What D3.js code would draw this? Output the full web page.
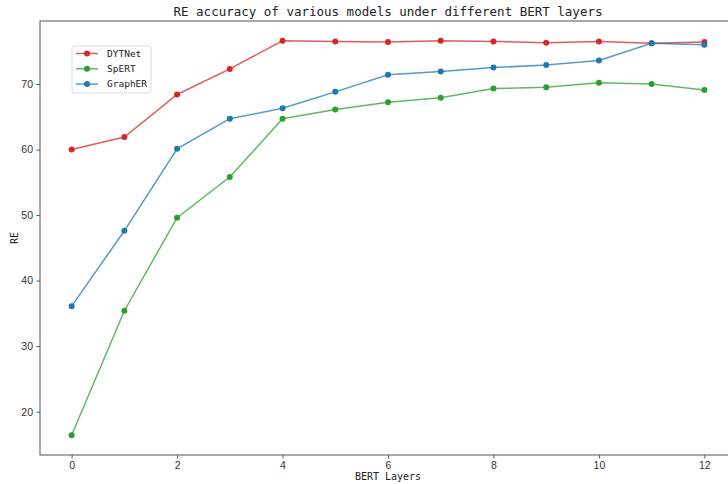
<!DOCTYPE html>
<html>
<head>
<meta charset="utf-8">
<script src="https://cdn.jsdelivr.net/npm/d3@7"></script>
<style>
  html, body { margin: 0; padding: 0; background: #fff; }
  svg { display: block; }
  .mono { font-family: "DejaVu Sans Mono", "Liberation Mono", monospace; fill: #222; }
  .tick text { font-family: "Liberation Sans", Arial, sans-serif; font-size: 10.5px; fill: #333; }
</style>
</head>
<body>
<svg id="chart"></svg>
<script>
// BERT layer counts on the x axis
const layers = [0, 1, 2, 3, 4, 5, 6, 7, 8, 9, 10, 11, 12];

// RE scores
const dytnet = [60.0, 61.9, 68.4, 72.3, 76.6, 76.5, 76.4, 76.6, 76.5, 76.3, 76.5, 76.2, 76.4];
const spert = [16.4, 35.4, 49.6, 55.8, 64.7, 66.1, 67.2, 67.9, 69.3, 69.5, 70.2, 70.0, 69.1];
const grapher = [36.1, 47.6, 60.1, 64.7, 66.3, 68.8, 71.4, 71.9, 72.5, 72.9, 73.6, 76.2, 76.0];

const xTicks = [0, 2, 4, 6, 8, 10, 12];
const yTicks = [20, 30, 40, 50, 60, 70];

const series = [
  { name: 'DYTNet', values: dytnet, color: '#d62728' },
  { name: 'SpERT', values: spert, color: '#2ca02c' },
  { name: 'GraphER', values: grapher, color: '#1f77b4' },
];

const W = 728, H = 484;
// axes box; matplotlib figure is cropped on the right
const margin = { top: 21, right: -8, bottom: 29, left: 40 };
const width = W - margin.left - margin.right;
const height = H - margin.top - margin.bottom;

const svg = d3.select('#chart').attr('width', W).attr('height', H);
const g = svg.append('g').attr('transform', `translate(${margin.left},${margin.top})`);

// 5% padding like matplotlib's default margins
const xSpan = d3.extent(layers);
const xPad = (xSpan[1] - xSpan[0]) * 0.05;
const x = d3.scaleLinear().domain([xSpan[0] - xPad, xSpan[1] + xPad]).range([0, width]);

const allVals = series.flatMap((s) => s.values);
const ySpan = d3.extent(allVals);
const yPad = (ySpan[1] - ySpan[0]) * 0.05;
const y = d3.scaleLinear().domain([ySpan[0] - yPad, ySpan[1] + yPad]).range([height, 0]);

// frame
g.append('rect')
  .attr('x', 0).attr('y', 0)
  .attr('width', width).attr('height', height)
  .attr('fill', 'none')
  .attr('stroke', '#555')
  .attr('stroke-width', 1);

const xAxis = g.append('g')
  .attr('transform', `translate(0,${height})`)
  .call(d3.axisBottom(x).tickValues(xTicks).tickSize(3.5).tickPadding(3.5).tickFormat(d3.format('d')));
const yAxis = g.append('g')
  .call(d3.axisLeft(y).tickValues(yTicks).tickSize(3.5).tickPadding(3.5).tickFormat(d3.format('d')));
[xAxis, yAxis].forEach((a) => {
  a.select('.domain').remove();
  a.selectAll('.tick line').attr('stroke', '#555');
});

const line = d3.line()
  .x((_d, i) => x(layers[i]))
  .y((d) => y(d));

series.forEach((s) => {
  g.append('path')
    .attr('d', line(s.values))
    .attr('fill', 'none')
    .attr('stroke', s.color)
    .attr('stroke-width', 1.5)
    .attr('stroke-opacity', 0.75);
  g.selectAll(null)
    .data(s.values)
    .join('circle')
    .attr('cx', (_d, i) => x(layers[i]))
    .attr('cy', (d) => y(d))
    .attr('r', 3)
    .attr('fill', s.color);
});

// title + axis labels
svg.append('text')
  .attr('class', 'mono')
  .attr('x', margin.left + width / 2)
  .attr('y', 16)
  .attr('text-anchor', 'middle')
  .style('font-size', '12.5px')
  .text('RE accuracy of various models under different BERT layers');

svg.append('text')
  .attr('class', 'mono')
  .attr('x', margin.left + width / 2)
  .attr('y', 480)
  .attr('text-anchor', 'middle')
  .style('font-size', '10px')
  .text('BERT Layers');

svg.append('text')
  .attr('class', 'mono')
  .attr('transform', `translate(18,${margin.top + height / 2}) rotate(-90)`)
  .attr('text-anchor', 'middle')
  .style('font-size', '10px')
  .text('RE');

// legend
const legend = svg.append('g').attr('transform', 'translate(72,46)');
legend.append('rect')
  .attr('width', 79).attr('height', 47)
  .attr('rx', 2)
  .attr('fill', '#fff')
  .attr('fill-opacity', 0.8)
  .attr('stroke', '#ddd');
series.forEach((s, i) => {
  const row = legend.append('g').attr('transform', `translate(0,${7.5 + i * 15.3})`);
  row.append('line')
    .attr('x1', 4).attr('x2', 26)
    .attr('stroke', s.color)
    .attr('stroke-width', 1.5)
    .attr('stroke-opacity', 0.75);
  row.append('circle').attr('cx', 15).attr('r', 3).attr('fill', s.color);
  row.append('text')
    .attr('class', 'mono')
    .attr('x', 35)
    .attr('dy', '0.35em')
    .style('font-size', '9.5px')
    .text(s.name);
});
</script>
</body>
</html>
